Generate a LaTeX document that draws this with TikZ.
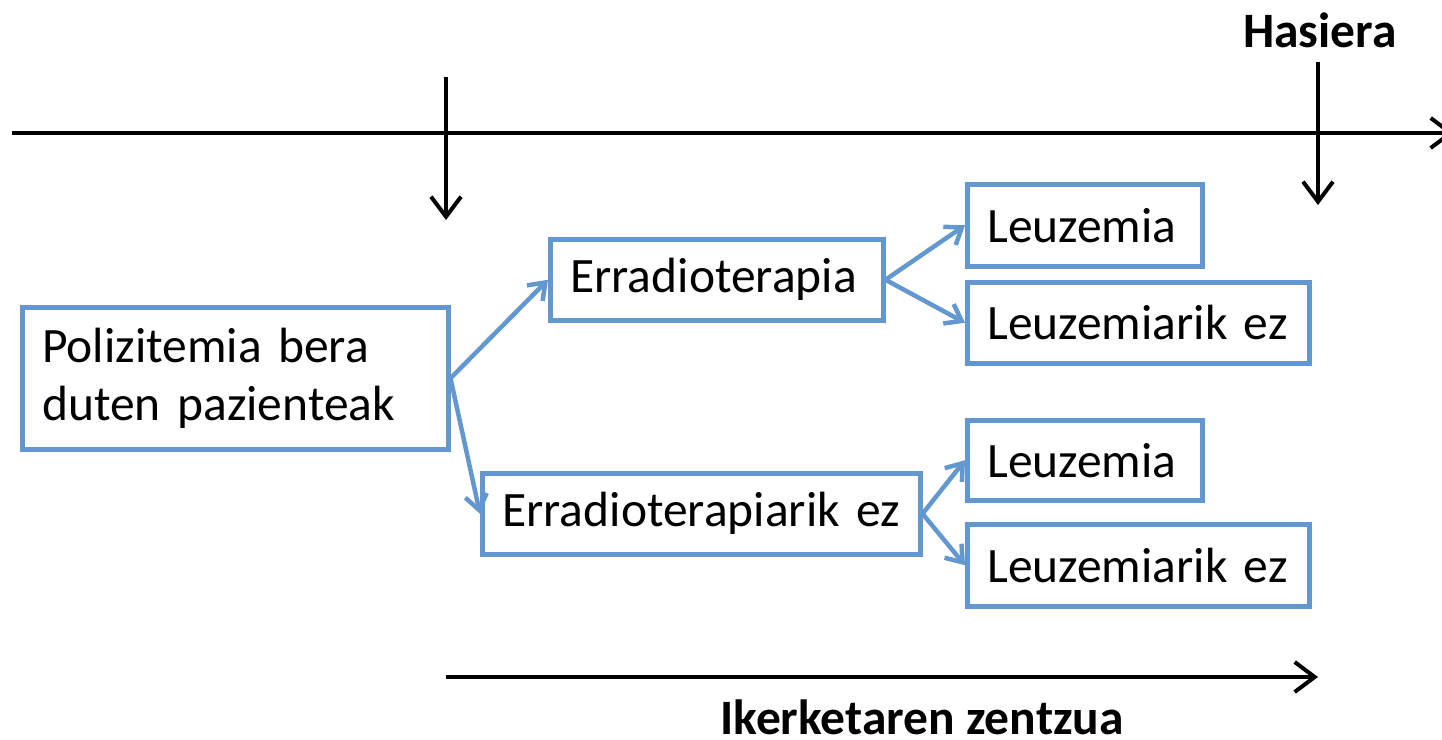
\documentclass[tikz,border=0pt]{standalone}
\usepackage{fontspec}
\setmainfont{Carlito}
\usetikzlibrary{arrows.meta}
\definecolor{boxblue}{RGB}{99,151,207}
\begin{document}
\begin{tikzpicture}[x=1pt,y=-1pt,
  box/.style={draw=boxblue, line width=4.5pt, anchor=north west, inner xsep=20pt, inner ysep=0pt, align=left, font=\fontsize{49.5}{58}\selectfont},
  blink/.style={draw=boxblue, line width=4.5pt, -{Straight Barb[length=15pt,width=22pt]}},
  axis/.style={draw=black, line width=4pt, -{Straight Barb[length=20pt,width=30pt]}},
  lbl/.style={font=\fontsize{49.5}{58}\selectfont\bfseries, inner sep=0pt}]
\useasboundingbox (0,0) rectangle (1442,739);
% boxes
\node[box, text width=386pt, minimum height=142pt] (poli) at (20,305) {Polizitemia bera\\duten pazienteak};
\node[box, text width=293pt, minimum height=81pt] (err) at (548,237) {Erradioterapia};
\node[box, text width=398pt, minimum height=81pt] (errez) at (480,471) {Erradioterapiarik ez};
\node[box, text width=195pt, minimum height=82pt] (leu1) at (965,182) {Leuzemia};
\node[box, text width=302pt, minimum height=81pt] (leuez1) at (965,280) {Leuzemiarik ez};
\node[box, text width=195pt, minimum height=80pt] (leu2) at (965,418) {Leuzemia};
\node[box, text width=302pt, minimum height=82pt] (leuez2) at (965,522) {Leuzemiarik ez};
% blue connectors
\draw[blink] (poli.east) -- (err.west);
\draw[blink] (poli.east) -- (errez.west);
\draw[blink] (err.east) -- (leu1.west);
\draw[blink] (err.east) -- (leuez1.west);
\draw[blink] (errez.east) -- (leu2.west);
\draw[blink] (errez.east) -- (leuez2.west);
% black axis
\coordinate (axL) at (12,133);
\coordinate (axR) at (1454,133);
\draw[axis] (axL) -- (axR);
\coordinate (v1a) at (446,77);
\coordinate (v1b) at (446,220);
\draw[axis] (v1a) -- (v1b);
\coordinate (v2a) at (1318,62);
\coordinate (v2b) at (1318,205);
\draw[axis] (v2a) -- (v2b);
\coordinate (hbA) at (446,677);
\coordinate (hbB) at (1318,677);
\draw[axis] (hbA) -- (hbB);
\node[lbl, anchor=base] (has) at (1320,47) {Hasiera};
\node[lbl, anchor=base] (iker) at (922,734) {Ikerketaren zentzua};
\end{tikzpicture}
\end{document}
